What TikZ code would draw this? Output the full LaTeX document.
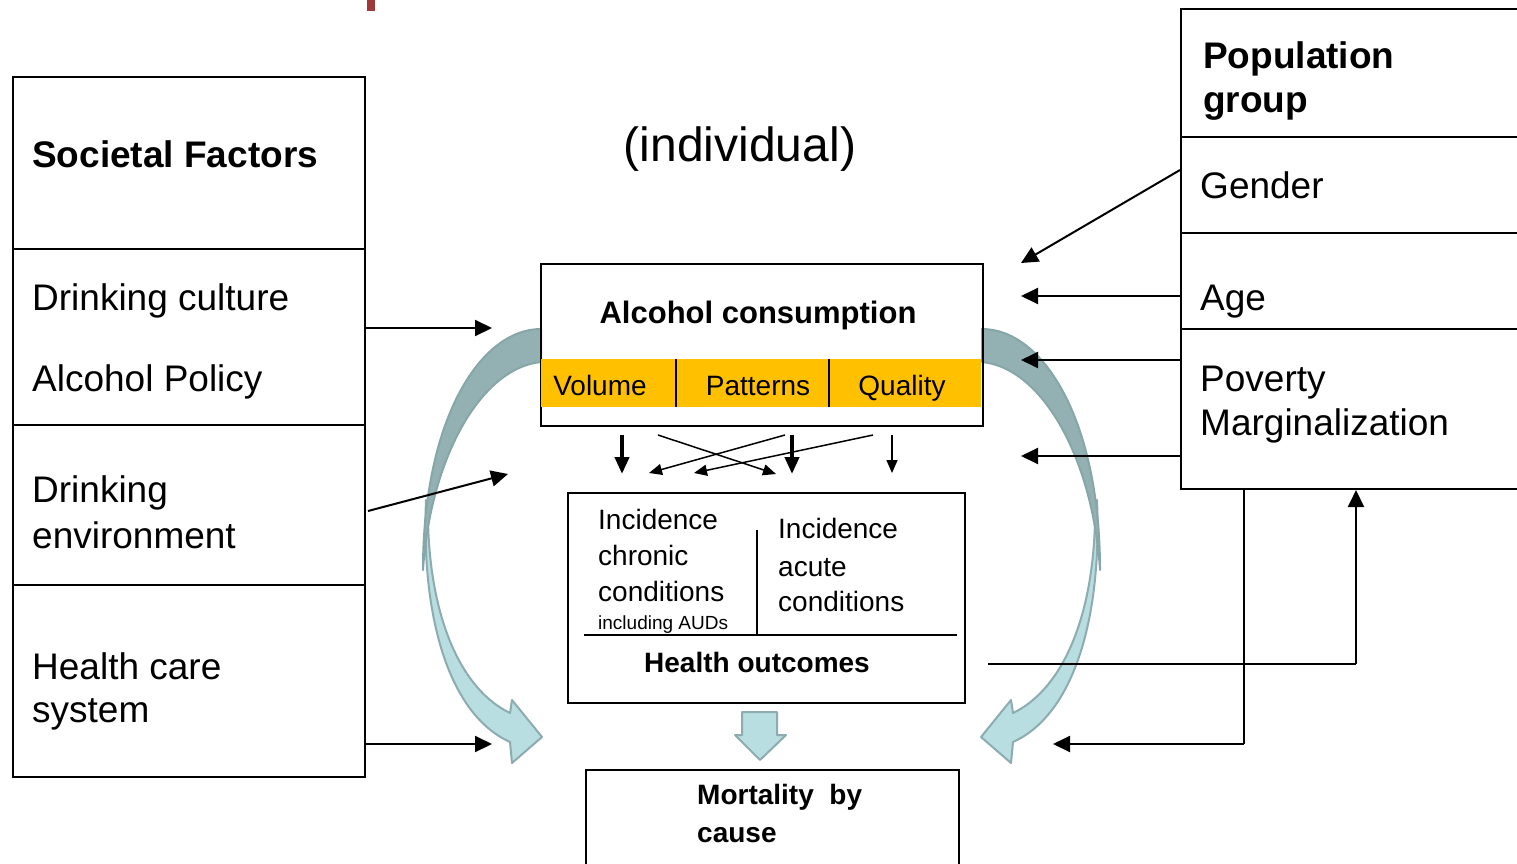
\documentclass[tikz,border=0pt]{standalone}
\usepackage{fontspec}
\setmainfont{Liberation Sans}
\usetikzlibrary{arrows.meta}
\definecolor{gold}{HTML}{FFC000}
\definecolor{darkteal}{HTML}{93B1B3}
\definecolor{darkedge}{HTML}{87A6A8}
\definecolor{lightteal}{HTML}{B8DEE2}
\definecolor{lightedge}{HTML}{8DACAF}
\definecolor{redmark}{HTML}{9E3A3A}
\tikzset{
  box/.style={draw=black, line width=2pt, rectangle, inner sep=0pt, anchor=north west},
  bigtxt/.style={font=\fontsize{37}{44}\selectfont, inner sep=0pt, anchor=base west},
  bigbold/.style={font=\bfseries\fontsize{37}{44}\selectfont, inner sep=0pt, anchor=base west},
  midtxt/.style={font=\fontsize{28}{34}\selectfont, inner sep=0pt},
  midbold/.style={font=\bfseries\fontsize{28}{34}\selectfont, inner sep=0pt},
  arr/.style={line width=2pt, -{Triangle[length=17pt,width=16pt]}},
  thinarr/.style={line width=1.5pt, -{Triangle[length=13pt,width=11pt]}},
  thickarr/.style={line width=4pt, -{Triangle[length=17pt,width=14pt]}},
  plainline/.style={line width=2.5pt},
  bend dark/.style={fill=darkteal, draw=darkedge, line width=2pt, line join=round},
  bend light/.style={fill=lightteal, draw=lightedge, line width=2pt, line join=round},
}
\begin{document}
\begin{tikzpicture}[x=1pt,y=-1pt]
\useasboundingbox (0,0) rectangle (1517,863);
\fill[white] (0,0) rectangle (1517,863);
\fill[redmark] (367,0) rectangle (375,11);

% left boxes
\node[box, minimum width=352pt, minimum height=172pt] (sf) at (12,76) {};
\node[box, minimum width=352pt, minimum height=176pt] (dc) at (12,248) {};
\node[box, minimum width=352pt, minimum height=160pt] (de) at (12,424) {};
\node[box, minimum width=352pt, minimum height=192pt] (hc) at (12,584) {};
\node[bigbold] (sft) at (32,167) {Societal Factors};
\node[bigtxt] (dct) at (32,310) {Drinking culture};
\node[bigtxt] (apt) at (32,391) {Alcohol Policy};
\node[bigtxt] (det1) at (32,502) {Drinking};
\node[bigtxt] (det2) at (32,548) {environment};
\node[bigtxt] (hct1) at (32,679) {Health care};
\node[bigtxt] (hct2) at (32,722) {system};

% right boxes
\node[box, minimum width=360pt, minimum height=128pt] (pg) at (1180,8) {};
\node[box, minimum width=360pt, minimum height=96pt] (gd) at (1180,136) {};
\node[box, minimum width=360pt, minimum height=96pt] (ag) at (1180,232) {};
\node[box, minimum width=360pt, minimum height=160pt] (pv) at (1180,328) {};
\node[bigbold] (pgt1) at (1203,68) {Population};
\node[bigbold] (pgt2) at (1203,112) {group};
\node[bigtxt] (gdt) at (1200,198) {Gender};
\node[bigtxt] (agt) at (1200,310) {Age};
\node[bigtxt] (pvt1) at (1200,391) {Poverty};
\node[bigtxt] (pvt2) at (1200,435) {Marginalization};

% title
\node[font=\fontsize{48}{56}\selectfont, inner sep=0pt, anchor=base] (ind) at (740,161) {(individual)};

% curved arrows (drawn beneath the black connectors)
\path[bend light] (426,500) .. controls (421,620) and (450,715) .. (510,742) -- (512,763) -- (542,737) -- (512,700) -- (510,713) .. controls (462,690) and (430,620) .. (428,520) -- cycle;
\path[bend dark] (541,329) .. controls (480,329) and (423,420) .. (423,570) .. controls (430,460) and (480,368) .. (541,362) -- cycle;
\begin{scope}[xshift=1523pt, xscale=-1]
\path[bend light] (426,500) .. controls (421,620) and (450,715) .. (510,742) -- (512,763) -- (542,737) -- (512,700) -- (510,713) .. controls (462,690) and (430,620) .. (428,520) -- cycle;
\path[bend dark] (541,329) .. controls (480,329) and (423,420) .. (423,570) .. controls (430,460) and (480,368) .. (541,362) -- cycle;
\end{scope}

% alcohol consumption box
\node[box, minimum width=442pt, minimum height=162pt] (ac) at (540,263) {};
\fill[gold] (541,359) rectangle (981,407);
\draw[line width=2pt] (676,359) -- (676,407) (829,359) -- (829,407);
\node[midbold, font=\bfseries\fontsize{31}{37}\selectfont, anchor=base] (act) at (758,323) {Alcohol consumption};
\node[midtxt, anchor=base] (vol) at (600,395) {Volume};
\node[midtxt, anchor=base] (pat) at (758,395) {Patterns};
\node[midtxt, anchor=base] (qua) at (902,395) {Quality};

% health outcomes box
\node[box, minimum width=397pt, minimum height=210pt] (ho) at (567,492) {};
\draw[line width=2pt] (584,635) -- (957,635);
\draw[line width=2pt] (757,530) -- (757,635);
\node[midtxt, anchor=base west] (ic1) at (598,529) {Incidence};
\node[midtxt, anchor=base west] (ic2) at (598,565) {chronic};
\node[midtxt, anchor=base west] (ic3) at (598,601) {conditions};
\node[font=\fontsize{19}{23}\selectfont, inner sep=0pt, anchor=base west] (ic4) at (598,629) {including AUDs};
\node[midtxt, anchor=base west] (ia1) at (778,538) {Incidence};
\node[midtxt, anchor=base west] (ia2) at (778,576) {acute};
\node[midtxt, anchor=base west] (ia3) at (778,611) {conditions};
\node[midbold, anchor=base] (hot) at (757,672) {Health outcomes};

% mortality box
\node[box, minimum width=373pt, minimum height=130pt] (mc) at (585,769) {};
\node[midbold, anchor=base west] (mct1) at (697,804) {Mortality\ \ by};
\node[midbold, anchor=base west] (mct2) at (697,842) {cause};
\path[bend light] (742,712) -- (777,712) -- (777,735) -- (786,735) -- (760,760) -- (735,735) -- (742,735) -- cycle;

% small arrows between consumption and outcomes
\coordinate (s1) at (622,435); \coordinate (e1) at (622,474);
\coordinate (s2) at (792,435); \coordinate (e2) at (792,474);
\coordinate (s3) at (892,435); \coordinate (e3) at (892,473);
\coordinate (s4) at (658,435); \coordinate (e4) at (776,474);
\coordinate (s5) at (785,435); \coordinate (e5) at (649,473);
\coordinate (s6) at (873,435); \coordinate (e6) at (694,473);
\draw[thickarr] (s1) -- (e1);
\draw[thickarr] (s2) -- (e2);
\draw[thinarr] (s3) -- (e3);
\draw[thinarr] (s4) -- (e4);
\draw[thinarr] (s5) -- (e5);
\draw[thinarr] (s6) -- (e6);

% left connectors
\coordinate (dcA) at (492,328);
\draw[arr] (dc.east |- dcA) -- (dcA);
\coordinate (deS) at (368,511); \coordinate (deA) at (508,474);
\draw[arr] (deS) -- (deA);
\coordinate (hcA) at (492,744);
\draw[arr] (hc.east |- hcA) -- (hcA);

% right connectors
\coordinate (gdS) at (1180,170); \coordinate (gdA) at (1021,263);
\draw[arr] (gdS) -- (gdA);
\coordinate (agA) at (1021,296);
\draw[arr] (ag.west |- agA) -- (agA);
\coordinate (pvA1) at (1021,360);
\draw[arr] (pv.west |- pvA1) -- (pvA1);
\coordinate (pvA2) at (1021,456);
\draw[arr] (pv.west |- pvA2) -- (pvA2);

% feedback lines
\coordinate (hoS) at (988,664); \coordinate (hoC) at (1356,664);
\draw[plainline] (hoS) -- (hoC);
\draw[arr] (hoC) -- (hoC |- pv.south);
\coordinate (pgC) at (1244,744); \coordinate (pgA) at (1053,744);
\draw[plainline] (pgC |- pv.south) -- (pgC);
\draw[arr] (pgC) -- (pgA);
\end{tikzpicture}
\end{document}
